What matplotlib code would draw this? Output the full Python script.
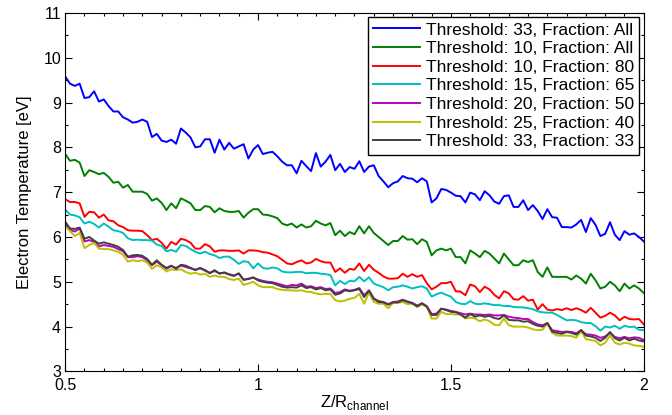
import numpy as np
import matplotlib
matplotlib.use('Agg')
import matplotlib.pyplot as plt
from matplotlib.ticker import MultipleLocator

plt.rcParams['font.family'] = ['Liberation Sans', 'DejaVu Sans']
plt.rcParams['mathtext.fontset'] = 'custom'
plt.rcParams['mathtext.rm'] = 'Liberation Sans'

# Z/R_channel sample positions (0.5 .. 2, 121 samples)
z = np.linspace(0.5, 2.0, 121)

t33_all = [9.58, 9.42, 9.37, 9.42, 9.10, 9.12, 9.25, 9.02, 9.07, 8.92,
           8.80, 8.80, 8.67, 8.62, 8.55, 8.57, 8.62, 8.57, 8.23, 8.30,
           8.15, 8.12, 8.17, 8.08, 8.42, 8.33, 8.22, 8.00, 8.02, 8.18,
           8.18, 7.88, 8.17, 7.95, 8.10, 7.97, 8.02, 8.07, 7.75, 7.95,
           8.05, 7.85, 7.88, 7.90, 7.80, 7.68, 7.60, 7.60, 7.42, 7.70,
           7.58, 7.47, 7.87, 7.57, 7.68, 7.83, 7.49, 7.63, 7.45, 7.56,
           7.52, 7.69, 7.45, 7.57, 7.60, 7.36, 7.24, 7.11, 7.20, 7.24,
           7.36, 7.31, 7.30, 7.22, 7.31, 7.24, 6.77, 6.86, 7.07, 7.05,
           6.99, 6.92, 6.91, 6.77, 6.99, 6.95, 6.82, 7.02, 6.93, 6.79,
           6.74, 6.91, 6.93, 6.67, 6.67, 6.82, 6.60, 6.71, 6.58, 6.40,
           6.62, 6.44, 6.43, 6.22, 6.22, 6.21, 6.28, 6.38, 6.11, 6.42,
           6.27, 6.02, 6.07, 6.33, 6.05, 5.93, 6.13, 6.05, 6.08, 6.00, 5.90]

t10_all = [7.85, 7.70, 7.72, 7.66, 7.36, 7.49, 7.45, 7.40, 7.43, 7.34,
           7.21, 7.23, 7.10, 7.16, 7.01, 7.01, 7.01, 6.96, 6.81, 6.86,
           6.76, 6.60, 6.75, 6.64, 6.86, 6.81, 6.75, 6.60, 6.60, 6.69,
           6.67, 6.55, 6.64, 6.58, 6.56, 6.56, 6.58, 6.43, 6.54, 6.62,
           6.62, 6.50, 6.49, 6.46, 6.42, 6.30, 6.26, 6.30, 6.21, 6.28,
           6.21, 6.24, 6.36, 6.30, 6.26, 6.31, 6.04, 6.14, 6.02, 6.11,
           6.06, 6.24, 6.08, 6.24, 6.09, 6.00, 5.91, 5.82, 5.91, 5.91,
           6.02, 5.94, 5.95, 5.84, 5.95, 5.89, 5.59, 5.70, 5.74, 5.70,
           5.74, 5.55, 5.55, 5.41, 5.70, 5.63, 5.55, 5.69, 5.63, 5.52,
           5.41, 5.63, 5.50, 5.37, 5.37, 5.48, 5.44, 5.48, 5.22, 5.11,
           5.32, 5.11, 5.11, 5.11, 5.11, 5.05, 5.14, 5.07, 4.96, 5.18,
           5.03, 4.85, 4.89, 5.00, 4.92, 4.79, 4.96, 4.85, 4.92, 4.85, 4.75]

t10_f80 = [6.84, 6.78, 6.78, 6.75, 6.45, 6.56, 6.55, 6.43, 6.50, 6.37,
           6.35, 6.26, 6.22, 6.15, 6.14, 6.14, 6.13, 6.04, 5.93, 5.96,
           5.87, 5.74, 5.89, 5.83, 5.96, 5.93, 5.87, 5.74, 5.74, 5.84,
           5.79, 5.67, 5.70, 5.70, 5.69, 5.69, 5.70, 5.63, 5.70, 5.70,
           5.69, 5.66, 5.65, 5.61, 5.57, 5.49, 5.41, 5.39, 5.44, 5.48,
           5.41, 5.43, 5.51, 5.46, 5.43, 5.43, 5.22, 5.30, 5.20, 5.29,
           5.27, 5.41, 5.24, 5.38, 5.27, 5.20, 5.12, 5.07, 5.07, 5.08,
           5.18, 5.11, 5.17, 5.11, 5.15, 4.97, 4.83, 4.89, 4.97, 4.97,
           5.00, 4.79, 4.78, 4.70, 4.94, 4.90, 4.77, 4.89, 4.83, 4.71,
           4.63, 4.79, 4.74, 4.61, 4.60, 4.68, 4.58, 4.60, 4.38, 4.50,
           4.38, 4.36, 4.39, 4.37, 4.41, 4.37, 4.41, 4.37, 4.31, 4.42,
           4.31, 4.20, 4.24, 4.31, 4.25, 4.14, 4.22, 4.17, 4.16, 4.17, 4.05]

t15_f65 = [6.61, 6.50, 6.48, 6.44, 6.30, 6.34, 6.29, 6.21, 6.30, 6.23,
           6.15, 6.13, 6.09, 5.97, 5.93, 5.94, 5.93, 5.93, 5.92, 5.83,
           5.80, 5.68, 5.71, 5.67, 5.82, 5.80, 5.73, 5.67, 5.63, 5.67,
           5.62, 5.59, 5.53, 5.56, 5.56, 5.49, 5.40, 5.46, 5.44, 5.30,
           5.41, 5.31, 5.29, 5.32, 5.30, 5.23, 5.21, 5.21, 5.22, 5.22,
           5.19, 5.20, 5.20, 5.18, 5.17, 5.15, 4.92, 5.02, 4.95, 5.02,
           5.01, 5.11, 5.01, 5.10, 4.96, 4.92, 4.88, 4.81, 4.88, 4.89,
           4.92, 4.89, 4.85, 4.88, 4.90, 4.85, 4.67, 4.72, 4.76, 4.71,
           4.67, 4.55, 4.51, 4.50, 4.57, 4.51, 4.50, 4.52, 4.50, 4.48,
           4.48, 4.46, 4.46, 4.44, 4.43, 4.43, 4.41, 4.39, 4.34, 4.32,
           4.31, 4.31, 4.26, 4.20, 4.14, 4.15, 4.14, 4.10, 4.08, 4.08,
           4.01, 3.91, 4.00, 3.98, 4.02, 3.95, 4.02, 3.99, 4.00, 3.93, 3.92]

t20_f50 = [6.29, 6.16, 6.12, 6.19, 5.90, 5.93, 5.89, 5.79, 5.82, 5.80,
           5.78, 5.73, 5.68, 5.55, 5.55, 5.57, 5.55, 5.48, 5.37, 5.45,
           5.37, 5.29, 5.35, 5.31, 5.36, 5.33, 5.30, 5.27, 5.30, 5.25,
           5.20, 5.24, 5.19, 5.20, 5.17, 5.14, 5.18, 5.04, 5.07, 5.09,
           5.05, 5.02, 5.00, 4.99, 4.96, 4.93, 4.90, 4.93, 4.92, 4.96,
           4.89, 4.90, 4.86, 4.88, 4.84, 4.85, 4.75, 4.77, 4.83, 4.80,
           4.82, 4.86, 4.70, 4.81, 4.63, 4.57, 4.55, 4.50, 4.55, 4.56,
           4.60, 4.56, 4.53, 4.47, 4.52, 4.46, 4.28, 4.29, 4.40, 4.38,
           4.35, 4.33, 4.30, 4.27, 4.29, 4.27, 4.27, 4.26, 4.27, 4.25,
           4.25, 4.26, 4.22, 4.20, 4.19, 4.17, 4.17, 4.10, 4.05, 4.03,
           4.08, 3.92, 3.90, 3.88, 3.89, 3.88, 3.85, 3.92, 3.83, 3.82,
           3.80, 3.75, 3.78, 3.86, 3.77, 3.74, 3.77, 3.74, 3.76, 3.75, 3.70]

t25_f40 = [6.24, 6.13, 6.02, 6.09, 5.75, 5.82, 5.87, 5.74, 5.73, 5.73,
           5.70, 5.67, 5.60, 5.45, 5.48, 5.46, 5.48, 5.43, 5.29, 5.37,
           5.32, 5.23, 5.28, 5.26, 5.28, 5.22, 5.18, 5.20, 5.16, 5.18,
           5.11, 5.14, 5.11, 5.11, 5.06, 5.04, 5.07, 4.93, 4.96, 5.00,
           4.92, 4.88, 4.88, 4.88, 4.84, 4.82, 4.81, 4.81, 4.80, 4.81,
           4.78, 4.77, 4.74, 4.72, 4.73, 4.73, 4.59, 4.56, 4.58, 4.62,
           4.64, 4.73, 4.51, 4.76, 4.55, 4.51, 4.51, 4.41, 4.53, 4.53,
           4.55, 4.50, 4.51, 4.44, 4.49, 4.45, 4.18, 4.18, 4.33, 4.28,
           4.28, 4.27, 4.27, 4.18, 4.20, 4.18, 4.12, 4.16, 4.12, 4.04,
           4.03, 4.18, 4.03, 4.00, 4.00, 4.00, 3.98, 3.94, 3.92, 3.93,
           4.07, 3.86, 3.80, 3.80, 3.80, 3.79, 3.75, 3.90, 3.72, 3.70,
           3.68, 3.58, 3.64, 3.80, 3.64, 3.60, 3.64, 3.62, 3.58, 3.57, 3.55]

t33_f33 = [6.34, 6.19, 6.18, 6.21, 5.96, 6.00, 5.92, 5.85, 5.88, 5.85,
           5.82, 5.78, 5.71, 5.56, 5.59, 5.60, 5.58, 5.51, 5.38, 5.48,
           5.38, 5.31, 5.36, 5.29, 5.38, 5.36, 5.31, 5.26, 5.31, 5.26,
           5.19, 5.26, 5.18, 5.21, 5.16, 5.13, 5.19, 5.05, 5.06, 5.10,
           5.03, 5.00, 4.98, 4.97, 4.93, 4.89, 4.87, 4.88, 4.87, 4.92,
           4.86, 4.88, 4.83, 4.86, 4.81, 4.83, 4.71, 4.74, 4.81, 4.79,
           4.81, 4.84, 4.66, 4.80, 4.62, 4.55, 4.54, 4.49, 4.54, 4.54,
           4.59, 4.55, 4.52, 4.45, 4.52, 4.44, 4.26, 4.26, 4.40, 4.37,
           4.33, 4.32, 4.27, 4.20, 4.28, 4.22, 4.25, 4.22, 4.24, 4.19,
           4.17, 4.25, 4.15, 4.14, 4.14, 4.11, 4.12, 4.06, 4.02, 4.00,
           4.08, 3.89, 3.86, 3.84, 3.88, 3.86, 3.82, 3.92, 3.80, 3.78,
           3.75, 3.68, 3.75, 3.88, 3.74, 3.69, 3.75, 3.69, 3.73, 3.69, 3.67]

labels = ['Threshold: 33, Fraction: All', 'Threshold: 10, Fraction: All',
          'Threshold: 10, Fraction: 80', 'Threshold: 15, Fraction: 65',
          'Threshold: 20, Fraction: 50', 'Threshold: 25, Fraction: 40',
          'Threshold: 33, Fraction: 33']
series = [t33_all, t10_all, t10_f80, t15_f65, t20_f50, t25_f40, t33_f33]
colors = ['#0000ff', '#008000', '#ff0000', '#00bfbf', '#bf00bf', '#bfbf00', '#404040']

fig = plt.figure(figsize=(6.72, 4.15), dpi=100)
ax = fig.add_axes([0.097, 0.105, 0.861, 0.864])

for y, c, lab in zip(series, colors, labels):
    ax.plot(z, y, color=c, lw=1.4, label=lab)

ax.set_xlim(0.5, 2)
ax.set_ylim(3, 11)
ax.set_xticks([0.5, 1, 1.5, 2])
ax.set_xticklabels(['0.5', '1', '1.5', '2'])
ax.set_yticks(range(3, 12))
ax.xaxis.set_minor_locator(MultipleLocator(0.05))
ax.yaxis.set_minor_locator(MultipleLocator(0.5))
ax.tick_params(which='both', direction='in', top=True, right=True, labelsize=11.5, width=0.8)
ax.tick_params(which='major', length=5)
ax.tick_params(which='minor', length=2.5)
ax.tick_params(axis='y', which='major', pad=3)
ax.tick_params(axis='x', which='major', pad=5)
for s in ax.spines.values():
    s.set_linewidth(0.8)

ax.set_xlabel(r'Z/R$_{\mathrm{channel}}$', fontsize=12, labelpad=0)
ax.set_ylabel('Electron Temperature [eV]', fontsize=12, labelpad=8)

leg = ax.legend(loc='upper right', fontsize=12.5, fancybox=False, framealpha=1,
                edgecolor='black', handlelength=2.7, handletextpad=0.35,
                labelspacing=0.2, borderpad=0.3, borderaxespad=0.25)
leg.get_frame().set_linewidth(1.0)

plt.savefig('out.png', dpi=100)
